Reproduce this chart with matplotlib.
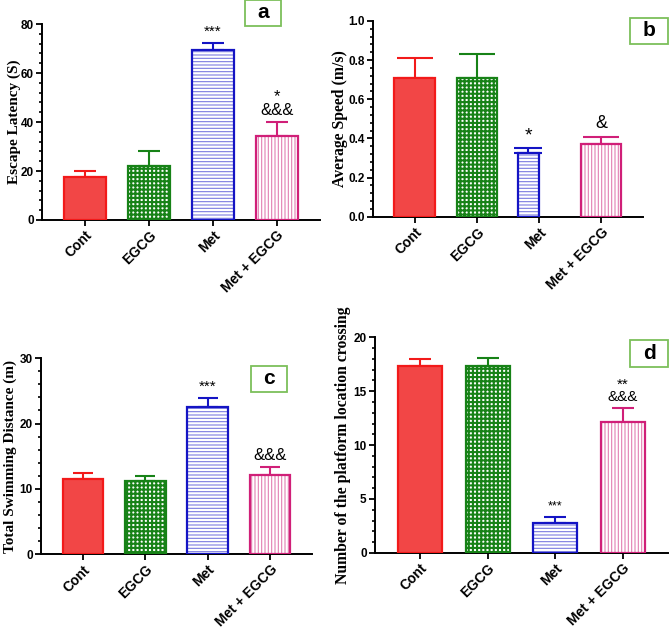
import matplotlib
matplotlib.use("Agg")
import matplotlib.pyplot as plt
from matplotlib.patches import Rectangle
from matplotlib.ticker import AutoMinorLocator, FormatStrFormatter

groups = ["Cont", "EGCG", "Met", "Met + EGCG"]

latency = [17.5, 22.0, 69.5, 34.5]
latency_err = [2.5, 6.0, 2.7, 5.5]
latency_marks = ["", "", "***", "*\n&&&"]

speed = [0.71, 0.71, 0.325, 0.37]
speed_err = [0.10, 0.12, 0.025, 0.04]
speed_marks = ["", "", "*", "&"]

distance = [11.5, 11.2, 22.6, 12.1]
distance_err = [0.9, 0.8, 1.3, 1.2]
distance_marks = ["", "", "***", "&&&"]

crossing = [17.3, 17.3, 2.8, 12.1]
crossing_err = [0.7, 0.8, 0.55, 1.3]
crossing_marks = ["", "", "***", "**\n&&&"]

edge_cols = ["#f21a1a", "#178217", "#1414c4", "#d01f78"]
fill_cols = ["#f24646", "white", "white", "white"]
hatch_cols = ["#f21a1a", "#178217", "#7a7ae0", "#e27fb2"]
hatches = [None, "++++", "-----", "|||||"]
hatch_lw = [0.9, 1.5, 0.8, 0.8]

plt.rcParams["font.family"] = "Liberation Sans"

fig = plt.figure(figsize=(6.69, 6.34), dpi=100)


def bar_panel(rect, vals, errs, marks, ylabel, ylim, yticks, capsize,
              mark_size, label_x, label_size, widths=None, shifts=None):
    ax = fig.add_axes(rect)
    x = list(range(len(vals)))
    if widths is None:
        widths = [0.65] * len(vals)
    if shifts is None:
        shifts = [0] * len(vals)
    xs = [xi + s for xi, s in zip(x, shifts)]
    for i in range(len(vals)):
        plt.rcParams["hatch.linewidth"] = hatch_lw[i]
        b = ax.bar(xs[i], vals[i], width=widths[i], color=fill_cols[i],
                   edgecolor=hatch_cols[i], hatch=hatches[i], linewidth=0, zorder=2)
        for p in b:
            if hasattr(p, "set_hatch_linewidth"):
                p.set_hatch_linewidth(hatch_lw[i])
        ax.bar(xs[i], vals[i], width=widths[i], color="none",
               edgecolor=edge_cols[i], linewidth=1.6, zorder=3)
        cs = capsize[i] if isinstance(capsize, list) else capsize
        ax.errorbar(xs[i], vals[i], yerr=[[0], [errs[i]]], fmt="none",
                    ecolor=edge_cols[i], elinewidth=1.5, capsize=cs,
                    capthick=1.5, zorder=1)
        if marks[i]:
            ax.annotate(marks[i], (xs[i], vals[i] + errs[i]), xytext=(0, 3),
                        textcoords="offset points", ha="center", va="bottom",
                        fontsize=mark_size[i], linespacing=0.9)
    ax.set_xlim(-0.67, 3.67)
    ax.set_ylim(*ylim)
    ax.set_yticks(yticks)
    ax.yaxis.set_minor_locator(AutoMinorLocator(5))
    ax.set_xticks(x)
    ax.set_xticklabels(groups, rotation=45, ha="right", rotation_mode="anchor",
                       fontsize=10, fontweight="bold")
    ax.tick_params(axis="both", which="major", length=4, width=1.3, pad=2,
                   labelsize=8.5)
    ax.tick_params(axis="x", labelsize=10)
    ax.tick_params(axis="y", which="minor", length=2.5, width=1.2)
    ax.spines["top"].set_visible(False)
    ax.spines["right"].set_visible(False)
    ax.spines["left"].set_linewidth(1.4)
    ax.spines["bottom"].set_linewidth(1.4)
    ax.set_ylabel(ylabel, family="Liberation Serif", fontweight="bold",
                  fontsize=label_size)
    ax.yaxis.set_label_coords(label_x, 0.5)
    return ax


ax_a = bar_panel([0.0628, 0.653, 0.415, 0.309], latency, latency_err,
                 latency_marks, "Escape Latency (S)", (0, 80), [0, 20, 40, 60, 80],
                 8, [9, 9, 11, 12], -0.075, 11)
ax_b = bar_panel([0.5575, 0.658, 0.4035, 0.309], speed, speed_err, speed_marks,
                 "Average Speed (m/s)", (0, 1.0), [0.0, 0.2, 0.4, 0.6, 0.8, 1.0],
                 [13, 13, 10, 13], [9, 9, 14, 13], -0.092, 11.3,
                 widths=[0.65, 0.65, 0.35, 0.65], shifts=[0, 0, -0.17, 0])
ax_b.yaxis.set_major_formatter(FormatStrFormatter("%.1f"))
ax_c = bar_panel([0.0613, 0.126, 0.405, 0.309], distance, distance_err,
                 distance_marks, "Total Swimming Distance (m)", (0, 30), [0, 10, 20, 30],
                 7.5, [9, 9, 11, 12], -0.088, 11)
ax_d = bar_panel([0.5605, 0.128, 0.438, 0.340], crossing, crossing_err,
                 crossing_marks, "Number of the platform location crossing", (0, 20),
                 [0, 5, 10, 15, 20], 8, [9, 9, 9, 11], -0.082, 11.3)

for ax in (ax_a, ax_b, ax_c, ax_d):
    for lab in ax.get_xticklabels() + ax.get_yticklabels():
        lab.set_fontweight("bold")

# panel letters in green boxes
boxes = [("a", 245, 0, 36, 26), ("b", 630, 18, 38, 26),
         ("c", 251, 366, 36, 26), ("d", 630, 340, 38, 27)]
W, H = 669, 634
for letter, bx, by, bw, bh in boxes:
    fig.patches.append(Rectangle((bx / W, 1 - (by + bh) / H), bw / W, bh / H,
                                 transform=fig.transFigure, fill=False,
                                 edgecolor="#7cbf5a", linewidth=1.3))
    fig.text((bx + bw / 2) / W, 1 - (by + bh / 2) / H, letter, ha="center",
             va="center", fontsize=15, fontweight="bold")

fig.savefig("out.png", dpi=100)
